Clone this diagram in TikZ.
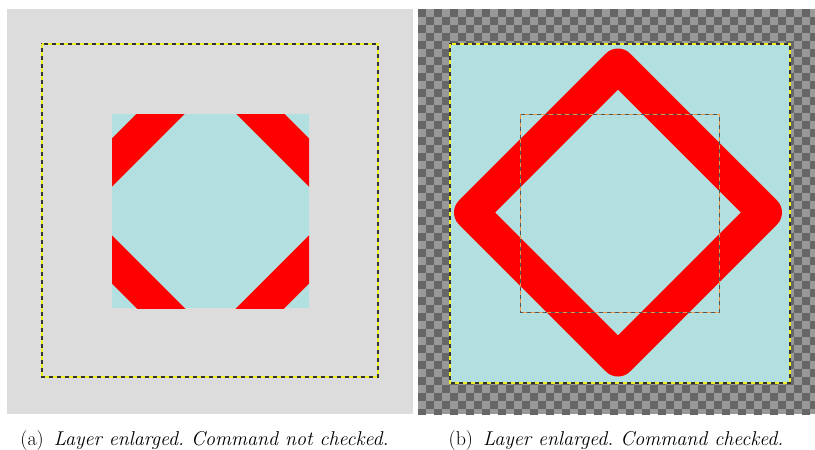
\documentclass[tikz,border=0pt]{standalone}
\usetikzlibrary{calc}
\definecolor{panelgray}{RGB}{220,220,220}
\definecolor{layercyan}{RGB}{178,223,223}
\definecolor{chkdark}{RGB}{102,102,102}
\definecolor{chklight}{RGB}{153,153,153}
\definecolor{borderyellow}{RGB}{240,240,40}
\definecolor{borderorange}{RGB}{240,150,70}
\definecolor{borderdark}{RGB}{70,90,100}
\tikzset{
  lyrborder/.style={draw=black!80, line width=1.1pt},
  lyrdash/.style={draw=borderyellow, line width=1.1pt, dash pattern=on 4pt off 4pt},
  inborder/.style={draw=borderdark, line width=0.9pt},
  indash/.style={draw=borderorange, line width=0.9pt, dash pattern=on 4pt off 4pt},
  redband/.style={draw=red, line width=34pt, line join=round},
  captxt/.style={anchor=base, inner sep=0pt, text=black, font=\fontsize{20}{24}\selectfont\frenchspacing}
}
\begin{document}
\begin{tikzpicture}[x=1pt,y=-1pt]
\useasboundingbox[fill=white] (0,0) rectangle (815,450);
% ---------- panel (a)
\fill[panelgray] (7,9) rectangle (413,414);
\begin{scope}
  \clip (112,114) rectangle (309,308);
  \fill[layercyan] (112,114) rectangle (309,308);
  \coordinate (ca) at (210.5,211);
  \draw[redband] ($(ca)+(0,-147)$) -- ($(ca)+(147,0)$) -- ($(ca)+(0,147)$) -- ($(ca)+(-147,0)$) -- cycle;
\end{scope}
\draw[lyrborder] (42,44) rectangle (378,377);
\draw[lyrdash] (42,44) rectangle (378,377);
% ---------- panel (b)
\begin{scope}
  \clip (418,9) rectangle (815,414);
  \fill[chklight] (418,9) rectangle (815,414);
  \foreach \i in {0,...,49}{
    \pgfmathtruncatemacro\off{mod(\i,2)}
    \foreach \j in {0,2,...,50}{
      \fill[chkdark] ({418+8*\i},{9+8*(\j+\off)}) rectangle ++(8,8);
    }
  }
\end{scope}
\fill[layercyan] (450,44) rectangle (790,383);
\coordinate (cb) at (618,212.5);
\draw[redband] ($(cb)+(0,-147)$) -- ($(cb)+(147,0)$) -- ($(cb)+(0,147)$) -- ($(cb)+(-147,0)$) -- cycle;
\draw[lyrborder] (450,44) rectangle (790,383);
\draw[lyrdash] (450,44) rectangle (790,383);
\draw[inborder] (520,114.5) rectangle (719,312);
\draw[indash] (520,114.5) rectangle (719,312);
% ---------- captions
\node[captxt] (capa) at (204.5,445) {(a)\enspace\textit{Layer enlarged. Command not checked.}};
\node[captxt] (capb) at (616,445) {(b)\enspace\textit{Layer enlarged. Command checked.}};
\end{tikzpicture}
\end{document}
